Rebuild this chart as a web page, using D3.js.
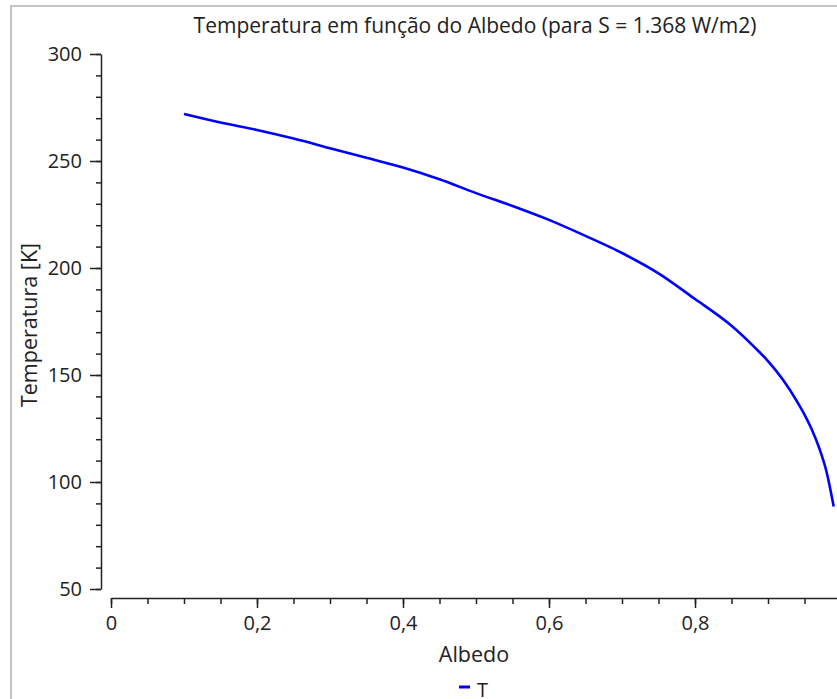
<!DOCTYPE html>
<html lang="pt">
<head>
    <meta charset="UTF-8">
    <title>Temperatura em função do Albedo</title>
    <script src="https://d3js.org/d3.v7.min.js"></script>
    <style>
        body {margin: 0; background: #fff; overflow: hidden;}
        text {
            font-family: "Open Sans", "Noto Sans", sans-serif;
            fill: #222;
        }
        .axis path, .axis line {stroke: #222;}
    </style>
</head>
<body>
<script>
    const width = 837;
    const height = 699;

    // values
    const albedo = [0.10, 0.15, 0.20, 0.25, 0.30, 0.35, 0.40, 0.45, 0.50, 0.55, 0.60,
                    0.65, 0.70, 0.75, 0.80, 0.85, 0.88, 0.90, 0.92, 0.94, 0.95, 0.96,
                    0.97, 0.98, 0.99];
    const temperatura = [272, 268, 264.5, 260.5, 256, 251.5, 247, 241.5, 235, 229, 222.5,
                         215, 207, 197.5, 185.5, 173, 163.5, 156.5, 148, 137.5, 131.5, 124.5,
                         116, 105, 88.5];
    const xTicks = [0, 0.2, 0.4, 0.6, 0.8, 1];
    const yTicks = [50, 100, 150, 200, 250, 300];

    const title = "Temperatura em função do Albedo (para S = 1.368 W/m2)";
    const xTitle = "Albedo";
    const yTitle = "Temperatura [K]";
    const seriesName = "T";

    const svg = d3.select("body").append("svg")
            .attr("width", width).attr("height", height);

    // frame
    svg.append("rect")
            .attr("x", 11).attr("y", 6)
            .attr("width", width + 20).attr("height", height + 20)
            .style("fill", "none")
            .style("stroke", "#c4c4c4")
            .style("stroke-width", 2);

    const x = d3.scaleLinear().domain([0, 1]).range([111, 841]);
    const y = d3.scaleLinear().domain([50, 300]).range([589, 54]);

    const fmt = d => d3.format(".1f")(d).replace(/\.0$/, "").replace(".", ",");

    // minor ticks
    svg.append("g").attr("class", "axis")
            .attr("transform", "translate(0,598)")
            .call(d3.axisBottom(x).tickValues(d3.range(0, 1.001, 0.05)).tickSize(6).tickFormat(""))
            .call(g => g.select(".domain").remove());
    svg.append("g").attr("class", "axis")
            .attr("transform", "translate(101,0)")
            .call(d3.axisLeft(y).tickValues(d3.range(50, 301, 10)).tickSize(5).tickFormat(""))
            .call(g => g.select(".domain").remove());

    // major ticks
    const xAxis = svg.append("g").attr("class", "axis")
            .attr("transform", "translate(0,598)")
            .call(d3.axisBottom(x).tickValues(xTicks).tickSize(10).tickSizeOuter(0)
                    .tickPadding(8).tickFormat(fmt));
    xAxis.selectAll("text").style("font-size", "20px");

    const yAxis = svg.append("g").attr("class", "axis")
            .attr("transform", "translate(101,0)")
            .call(d3.axisLeft(y).tickValues(yTicks).tickSize(11).tickSizeOuter(0)
                    .tickPadding(8));
    yAxis.selectAll("text").style("font-size", "20px");
    svg.selectAll(".axis line, .axis path").style("stroke-width", 1.5);

    // line
    const line = d3.line()
            .x((d, i) => x(albedo[i]))
            .y(d => y(d))
            .curve(d3.curveMonotoneX);

    svg.append("path")
            .datum(temperatura)
            .attr("d", line)
            .style("fill", "none")
            .style("stroke", "#0000ff")
            .style("stroke-width", 2.6);

    // texts
    svg.append("text")
            .attr("x", 475).attr("y", 33)
            .attr("text-anchor", "middle")
            .style("font-size", "21px")
            .text(title);

    svg.append("text")
            .attr("x", 474).attr("y", 662)
            .attr("text-anchor", "middle")
            .style("font-size", "21.5px")
            .text(xTitle);

    svg.append("text")
            .attr("transform", "translate(37,325) rotate(-90)")
            .attr("text-anchor", "middle")
            .style("font-size", "21.5px")
            .text(yTitle);

    // legend
    svg.append("line")
            .attr("x1", 459).attr("x2", 470)
            .attr("y1", 687).attr("y2", 687)
            .style("stroke", "#0000ff")
            .style("stroke-width", 3);
    svg.append("text")
            .attr("x", 477).attr("y", 697)
            .style("font-size", "20px")
            .text(seriesName);
</script>
</body>
</html>
